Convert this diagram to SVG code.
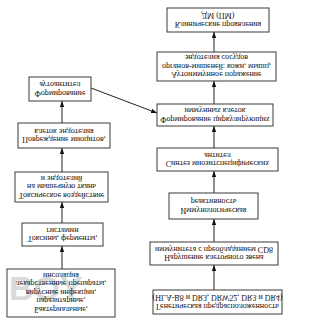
<svg xmlns="http://www.w3.org/2000/svg" width="309" height="325" viewBox="0 0 309 325">
<style>
.box{fill:#fff;stroke:#3a3a3a;stroke-width:1}
.t{font-family:"Liberation Serif","Times New Roman",serif;font-size:8px;fill:#111;text-anchor:middle}
.c{stroke:#222;stroke-width:1;fill:none;marker-end:url(#ah)}
.wm{font-family:"Liberation Sans",Arial,sans-serif;font-weight:bold;font-size:34px;fill:#dadada}
</style>
<defs>
<marker id="ah" markerUnits="userSpaceOnUse" markerWidth="6" markerHeight="6" refX="6" refY="3" orient="auto">
<path d="M0,0.8 L6,3 L0,5.2 z" fill="#111"/>
</marker>
</defs>
<rect width="309" height="325" fill="#fff"/>
<g transform="matrix(1 0 0 -1 0 325)">
<g id="connectors">
<line class="c" x1="214" y1="35" x2="214" y2="60"/>
<line class="c" x1="214" y1="83" x2="214" y2="106"/>
<line class="c" x1="214" y1="132" x2="214" y2="154"/>
<line class="c" x1="214" y1="177" x2="214" y2="199"/>
<line class="c" x1="214" y1="221" x2="214" y2="244"/>
<line class="c" x1="214" y1="273" x2="214" y2="293"/>
<line class="c" x1="62" y1="56" x2="62" y2="79"/>
<line class="c" x1="62" y1="102" x2="62" y2="123"/>
<line class="c" x1="62" y1="153" x2="62" y2="177"/>
<line class="c" x1="62" y1="202" x2="62" y2="224"/>
<line class="c" x1="91" y1="237" x2="157" y2="212"/>
</g>
<g id="genetic">
<rect class="box" x="153" y="11" width="129" height="24"/>
<text class="t" x="217.5" y="21.5">Генетическая предрасположенность</text>
<text class="t" x="217.5" y="30">(HLA-B8 и DR3, DRW52, DR3 и DR4)</text>
</g>
<g id="cellular">
<rect class="box" x="150" y="60" width="128" height="23"/>
<text class="t" x="214" y="70">Нарушение клеточного звена</text>
<text class="t" x="214" y="78.5">иммунитета с преобладанием CD8</text>
</g>
<g id="reactivity">
<rect class="box" x="169" y="106" width="89" height="26"/>
<text class="t" x="213.5" y="117.5">Иммунологическая</text>
<text class="t" x="213.5" y="126">реактивность</text>
</g>
<g id="synthesis">
<rect class="box" x="157" y="154" width="121" height="23"/>
<text class="t" x="217.5" y="164">Синтез миозитспецифических</text>
<text class="t" x="217.5" y="172.5">антител</text>
</g>
<g id="circulating">
<rect class="box" x="157" y="199" width="116" height="22"/>
<text class="t" x="215" y="208.5">Формирование циркулирующих</text>
<text class="t" x="215" y="217">иммунных клеток</text>
</g>
<g id="autoimmune">
<rect class="box" x="157" y="244" width="119" height="29"/>
<text class="t" x="216.5" y="252.8">Аутоиммунное поражение</text>
<text class="t" x="216.5" y="261.3">органов-мишеней: кожи, мышц,</text>
<text class="t" x="216.5" y="269.8">эндотелия сосудов</text>
</g>
<g id="clinical">
<rect class="box" x="167" y="293" width="102" height="24"/>
<text class="t" x="218" y="303.5">Клинические проявления</text>
<text class="t" x="218" y="312">ДМ (ПМ)</text>
</g>
<g id="triggers">
<rect class="box" x="7" y="8" width="108" height="48"/>
<g transform="matrix(1 0 0 -1 0 325)"><text class="wm" x="9" y="300">BOY</text></g>
<text class="t" x="61" y="18.5">Бактериальные,</text>
<text class="t" x="61" y="27">паразитарные,</text>
<text class="t" x="61" y="35.5">вирусные инфекции,</text>
<text class="t" x="61" y="44">лекарственные препараты,</text>
<text class="t" x="61" y="52.5">инсоляция</text>
</g>
<g id="toxins">
<rect class="box" x="22" y="79" width="81" height="23"/>
<text class="t" x="62.5" y="89">Токсины, ферменты,</text>
<text class="t" x="62.5" y="97.5">гистамин</text>
</g>
<g id="toxic-effect">
<rect class="box" x="15" y="123" width="93" height="30"/>
<text class="t" x="61.5" y="132.3">Токсическое воздействие</text>
<text class="t" x="61.5" y="140.8">на мышечную ткань</text>
<text class="t" x="61.5" y="149.3">и эндотелий</text>
</g>
<g id="damage">
<rect class="box" x="18" y="177" width="92" height="25"/>
<text class="t" x="64" y="188">Повреждение миоцитов,</text>
<text class="t" x="64" y="196.5">клеток эндотелия</text>
</g>
<g id="autoantibodies">
<rect class="box" x="29" y="224" width="62" height="24"/>
<text class="t" x="60" y="234.5">Формирование</text>
<text class="t" x="60" y="243">аутоантител</text>
</g>
</g>
</svg>
